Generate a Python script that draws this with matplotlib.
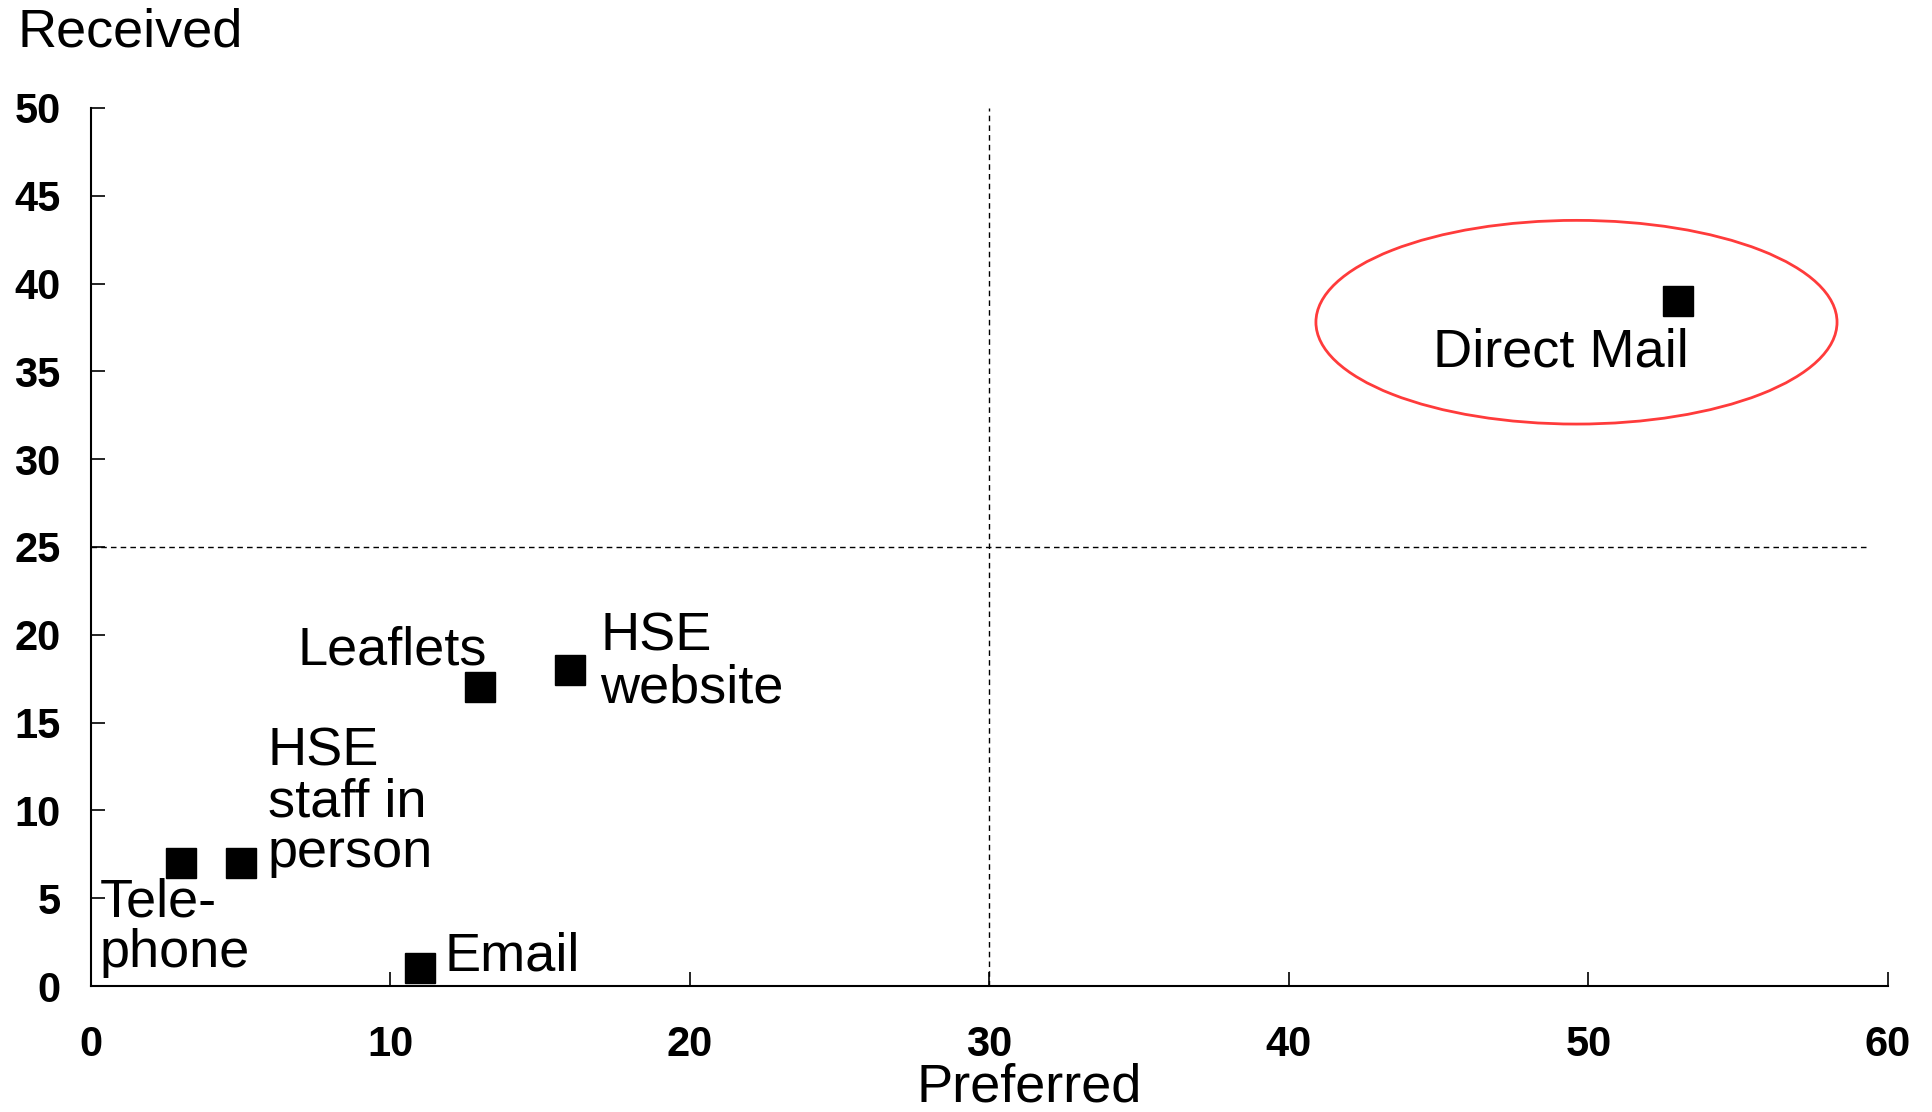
import matplotlib.pyplot as plt
from matplotlib.patches import Ellipse

plt.rcParams['font.family'] = ['Liberation Sans', 'DejaVu Sans']

# 数据：偏好 vs 实际收到
channels = ['Tele-\nphone', 'HSE\nstaff in\nperson', 'Email', 'Leaflets', 'HSE\nwebsite', 'Direct Mail']
preferred = [3, 5, 11, 13, 16, 53]
received = [7, 7, 1, 17, 18, 39]

# 标签位置（数据坐标）和对齐方式
label_x = [0.3, 5.9, 11.8, 6.9, 17.0, 44.8]
label_y = [6.2, 14.8, 0.9, 18.3, 21.3, 35.3]
label_va = ['top', 'top', 'baseline', 'baseline', 'top', 'baseline']

fig = plt.figure(figsize=(19.32, 11.12), dpi=100)
ax = fig.add_axes([0.0471, 0.1133, 0.9301, 0.7896])

ax.plot(preferred, received, linestyle='none', marker='s', markersize=22,
        color='black', clip_on=False, zorder=3)

for name, x, y, va in zip(channels, label_x, label_y, label_va):
    ax.text(x, y, name, fontsize=39, ha='left', va=va, linespacing=1.03)

# 象限分界线
ax.plot([30, 30], [0, 50], color='black', linestyle=(0, (4, 3)), linewidth=1)
ax.plot([0, 59.3], [25, 25], color='black', linestyle=(0, (4, 3)), linewidth=1)

# 圈出 Direct Mail
ax.add_patch(Ellipse((49.6, 37.8), 17.4, 11.6, fill=False, edgecolor='#ff3b3b', linewidth=2))

ax.set_xlim(0, 60)
ax.set_ylim(0, 50)
ax.set_xticks(range(0, 61, 10))
ax.set_yticks(range(0, 51, 5))
ax.spines['top'].set_visible(False)
ax.spines['right'].set_visible(False)
for s in ['left', 'bottom']:
    ax.spines[s].set_linewidth(1.5)
ax.tick_params(direction='in', length=10, width=1.2, labelsize=30)
ax.tick_params(axis='x', pad=28)
ax.tick_params(axis='y', pad=22)
for lab in ax.get_xticklabels() + ax.get_yticklabels():
    lab.set_fontweight('bold')

fig.text(0.009, 0.958, 'Received', fontsize=39, ha='left', va='baseline')
fig.text(0.5326, 0.009, 'Preferred', fontsize=39, ha='center', va='baseline')

fig.savefig('out.png', dpi=100)
